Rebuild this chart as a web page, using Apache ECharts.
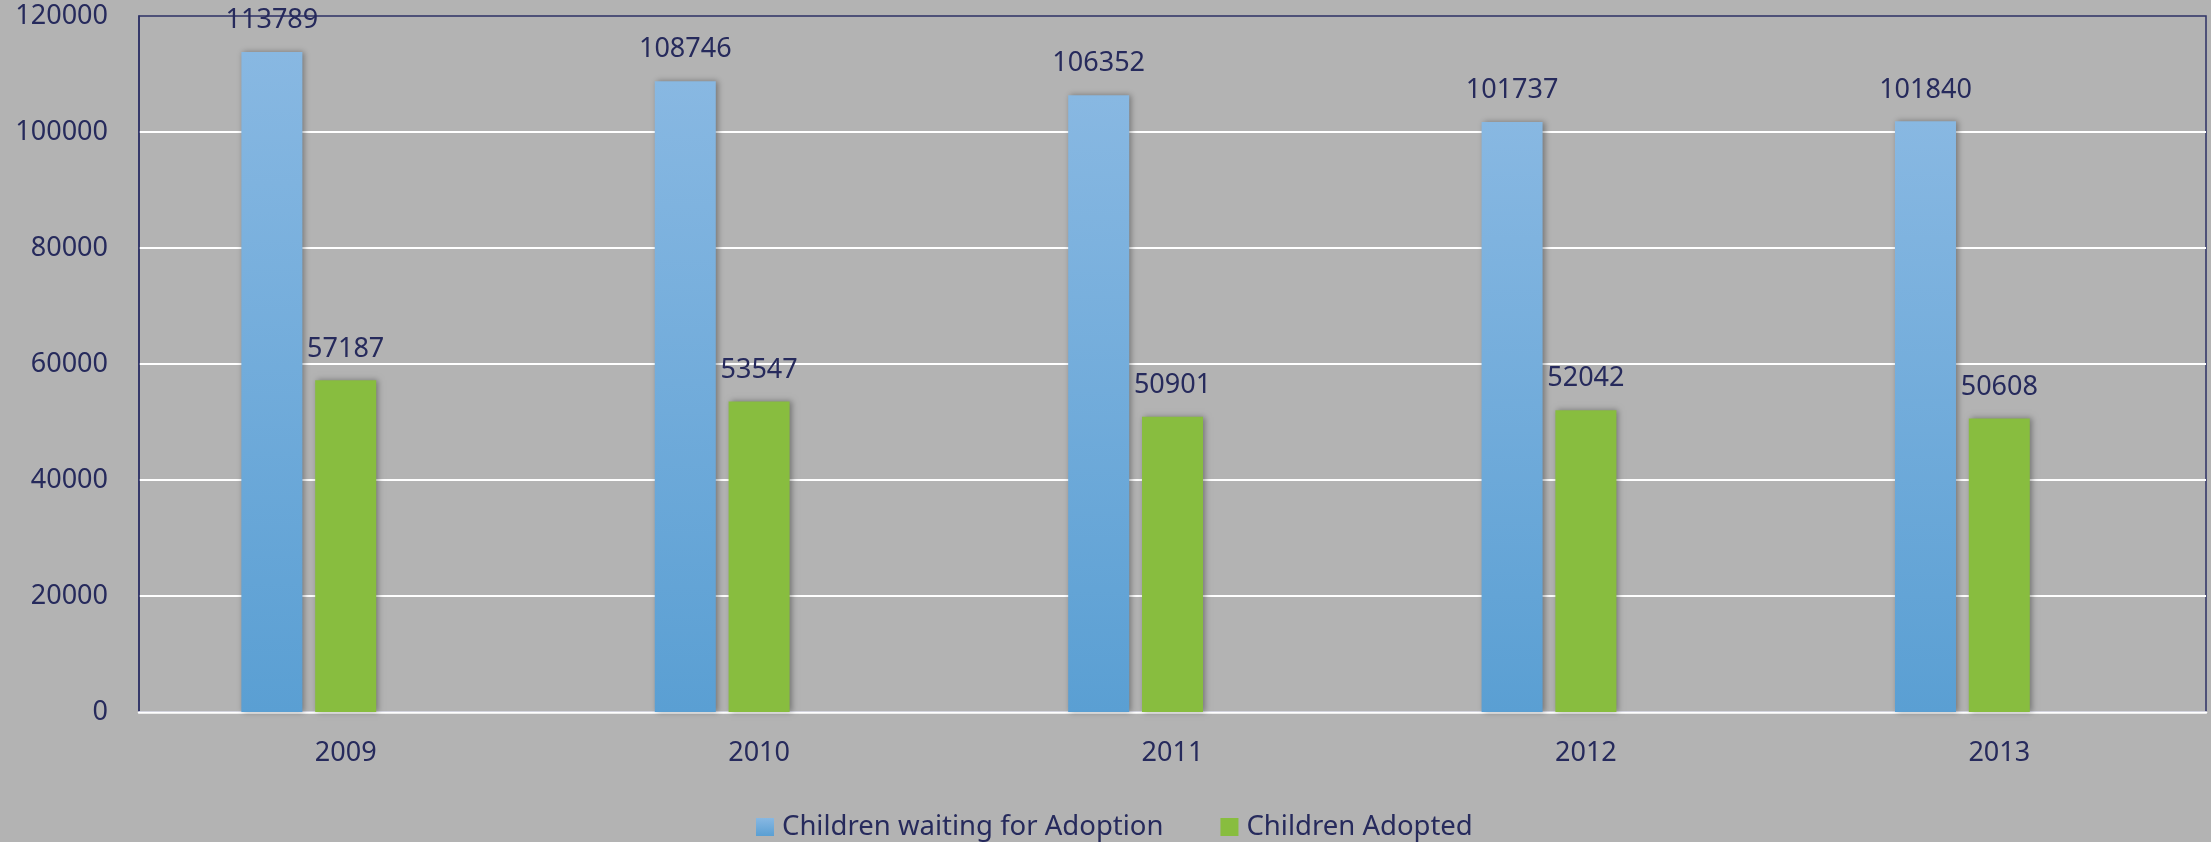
<!DOCTYPE html>
<html>
<head>
<meta charset="utf-8">
<script src="https://cdn.jsdelivr.net/npm/echarts@6/dist/echarts.min.js"></script>
<style>
  html, body { margin: 0; padding: 0; background: #b3b3b3; }
  #main { width: 2211px; height: 842px; }
</style>
</head>
<body>
<div id="main"></div>
<script>
const years = ['2009', '2010', '2011', '2012', '2013']
const waiting = [113789, 108746, 106352, 101737, 101840]
const adopted = [57187, 53547, 50901, 52042, 50608]
// the source chart keeps an empty third slot in each group
const emptySlot = [null, null, null, null, null]
const yTicks = { min: 0, max: 120000, interval: 20000 }

const ink = '#262a5c'
const font = '"Noto Sans", sans-serif'

const blueFill = new echarts.graphic.LinearGradient(0, 0, 0, 1, [
  { offset: 0, color: '#88b8e2' },
  { offset: 1, color: '#5a9fd3' }
])

const barShadow = {
  shadowBlur: 6,
  shadowColor: 'rgba(0,0,0,0.35)',
  shadowOffsetX: 2,
  shadowOffsetY: 0
}

const chart = echarts.init(document.getElementById('main'))
chart.setOption({
  backgroundColor: '#b3b3b3',
  animation: false,
  textStyle: { fontFamily: font, color: ink },
  grid: {
    left: 139,
    right: 5,
    top: 16,
    bottom: 130,
    show: true,
    borderColor: '#2e3266',
    borderWidth: 1.5,
    backgroundColor: 'transparent'
  },
  legend: {
    left: 751,
    top: 808,
    data: ['Children waiting for Adoption', 'Children Adopted'],
    icon: 'rect',
    itemWidth: 18,
    itemHeight: 18,
    itemGap: 57,
    textStyle: { fontFamily: font, fontSize: 27.5, color: ink, padding: [0, 0, 0, 3] }
  },
  xAxis: {
    type: 'category',
    data: years,
    axisLine: { show: true, lineStyle: { color: '#ffffff', width: 2.5 } },
    axisTick: { show: false },
    axisLabel: { fontFamily: font, fontSize: 27, color: ink, margin: 28 }
  },
  yAxis: {
    type: 'value',
    min: yTicks.min,
    max: yTicks.max,
    interval: yTicks.interval,
    axisLine: { show: true, lineStyle: { color: '#2e3266', width: 1.5 } },
    axisTick: { show: false },
    axisLabel: {
      fontFamily: font, fontSize: 27, color: ink, margin: 31, padding: [7, 0, 0, 0],
      formatter: (v) => String(v)
    },
    splitLine: { show: true, showMinLine: false, showMaxLine: false, lineStyle: { color: '#ffffff', width: 2 } }
  },
  series: [
    {
      name: 'Children waiting for Adoption',
      type: 'bar',
      data: waiting,
      barWidth: 61,
      barGap: '21%',
      itemStyle: Object.assign({ color: blueFill }, barShadow),
      label: { show: true, position: 'top', distance: 18, fontFamily: font, fontSize: 27, color: ink }
    },
    {
      name: 'Children Adopted',
      type: 'bar',
      data: adopted,
      barWidth: 61,
      barGap: '21%',
      itemStyle: Object.assign({ color: '#88bd3f' }, barShadow),
      label: { show: true, position: 'top', distance: 18, fontFamily: font, fontSize: 27, color: ink }
    },
    {
      name: 'empty',
      type: 'bar',
      data: emptySlot,
      barWidth: 61,
      barGap: '21%'
    }
  ]
})
</script>
</body>
</html>
